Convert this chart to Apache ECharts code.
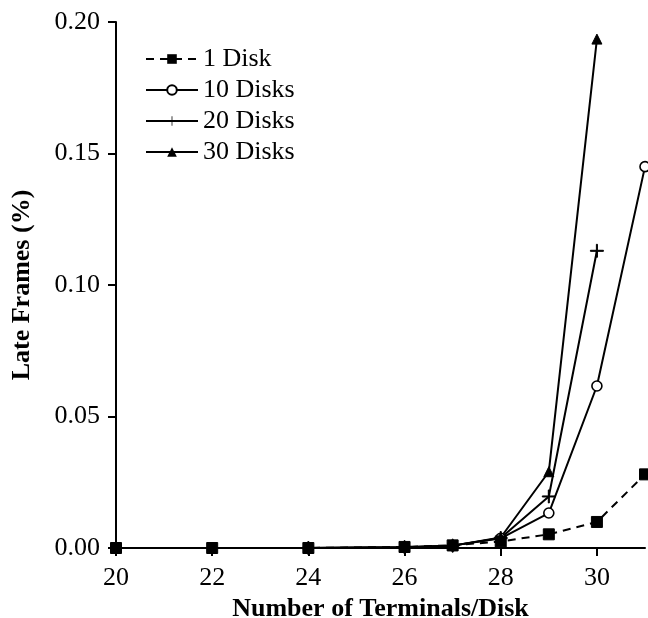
<!DOCTYPE html>
<html>
<head>
<meta charset="utf-8">
<script src="https://cdn.jsdelivr.net/npm/echarts@6/dist/echarts.min.js"></script>
<style>
  html, body { margin: 0; padding: 0; background: #fff; }
  #chart { width: 648px; height: 618px; }
</style>
</head>
<body>
<div id="chart"></div>
<script>
const xTicks = [20, 22, 24, 26, 28, 30]

// [terminals/disk, late frames %]
const disk1 = [[20, 0], [22, 0], [24, 0], [26, 0.0004], [27, 0.001], [28, 0.0025], [29, 0.0052], [30, 0.0099], [31, 0.028]]
const disks10 = [[24, 0], [26, 0.0003], [27, 0.0009], [28, 0.0037], [29, 0.0133], [30, 0.0616], [31, 0.145]]
const disks20 = [[24, 0], [26, 0.0003], [27, 0.0009], [28, 0.0038], [29, 0.0196], [30, 0.113]]
const disks30 = [[24, 0], [26, 0.0003], [27, 0.0009], [28, 0.004], [29, 0.029], [30, 0.1935]]

const font = 'Liberation Serif'
const plus = 'path://M-0.8,-10 H0.8 V-0.8 H10 V0.8 H0.8 V10 H-0.8 V0.8 H-10 V-0.8 H-0.8 Z'

function line(name, data, symbol, size, extra) {
  return Object.assign({
    name, type: 'line', data, symbol, symbolSize: size,
    clip: false,
    lineStyle: { color: '#000', width: 2 },
    itemStyle: { color: '#000', borderColor: '#000' },
  }, extra)
}

const chart = echarts.init(document.getElementById('chart'))
chart.setOption({
  animation: false,
  backgroundColor: '#fff',
  grid: { left: 116, right: 3, top: 22, bottom: 70, outerBoundsMode: 'none', containLabel: false },
  legend: {
    orient: 'vertical', left: 140, top: 41,
    itemWidth: 52, itemHeight: 12, itemGap: 5,
    textStyle: { fontFamily: font, fontSize: 26, color: '#000' },
    data: ['1 Disk', '10 Disks', '20 Disks', '30 Disks'],
  },
  xAxis: {
    type: 'value', min: 20, max: 31, interval: 2,
    name: 'Number of Terminals/Disk', nameLocation: 'middle', nameGap: 47,
    nameTextStyle: { fontFamily: font, fontSize: 26, fontWeight: 'bold', color: '#000' },
    axisLine: { lineStyle: { color: '#000', width: 2 } },
    axisTick: { length: 8, lineStyle: { color: '#000', width: 2 }, customValues: xTicks },
    axisLabel: { fontFamily: font, fontSize: 26, color: '#000', margin: 17, customValues: xTicks },
    splitLine: { show: false },
  },
  yAxis: {
    type: 'value', min: 0, max: 0.2, interval: 0.05,
    name: 'Late Frames (%)', nameLocation: 'middle', nameGap: 81,
    nameTextStyle: { fontFamily: font, fontSize: 26, fontWeight: 'bold', color: '#000' },
    axisLine: { show: true, lineStyle: { color: '#000', width: 2 } },
    axisTick: { show: true, length: 8, lineStyle: { color: '#000', width: 2 } },
    axisLabel: { fontFamily: font, fontSize: 26, color: '#000', margin: 16, formatter: v => v.toFixed(2) },
    splitLine: { show: false },
  },
  series: [
    line('10 Disks', disks10, 'circle', 10, { itemStyle: { color: '#fff', borderColor: '#000', borderWidth: 1.6 } }),
    line('20 Disks', disks20, plus, 13, { z: 3 }),
    line('30 Disks', disks30, 'triangle', 10, { z: 3 }),
    line('1 Disk', disk1, 'rect', 11, {
      z: 4,
      lineStyle: { color: '#000', width: 2, type: [8, 6] },
    }),
  ],
})
</script>
</body>
</html>
